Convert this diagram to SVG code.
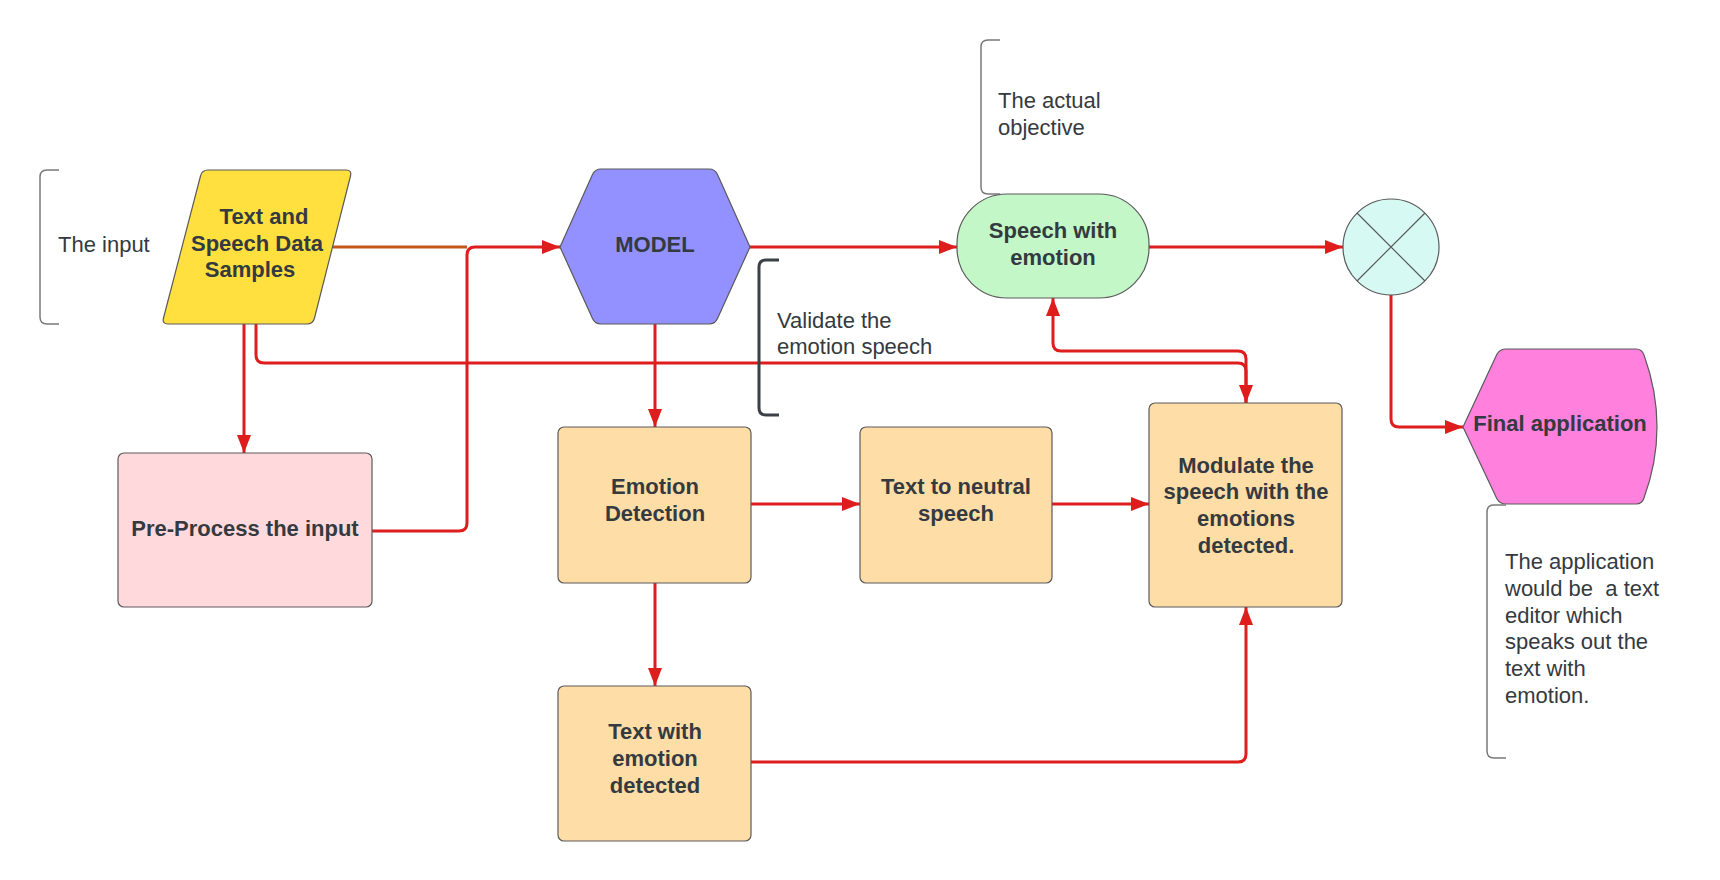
<svg xmlns="http://www.w3.org/2000/svg" width="1720" height="880" viewBox="0 0 1720 880">
<style>
.node{stroke:#5a5a5a;stroke-width:1.2}
.lbl{font-family:"Liberation Sans",Arial,sans-serif;font-size:22px;font-weight:bold;fill:#343a40;text-anchor:middle}
.note{font-family:"Liberation Sans",Arial,sans-serif;font-size:22px;fill:#343a40}
.br{fill:none;stroke:#7a7a7a;stroke-width:1.5}
.edge{fill:none;stroke:#DE1D1D;stroke-width:3}
</style>
<defs>
<marker id="ah" markerWidth="18" markerHeight="14" refX="18" refY="7" orient="auto" markerUnits="userSpaceOnUse">
<path d="M0,0 L18,7 L0,14 Z" fill="#DE1D1D"/>
</marker>
</defs>
<rect width="1720" height="880" fill="#ffffff"/>

<g id="connectors">
<path d="M333,247 H467" fill="none" stroke="#C4561A" stroke-width="3"/>
<path class="edge" d="M372,531 H459 Q467,531 467,523 V255 Q467,247 475,247 H560" marker-end="url(#ah)"/>
<path class="edge" d="M750,247 H957" marker-end="url(#ah)"/>
<path class="edge" d="M1149,247 H1343" marker-end="url(#ah)"/>
<path class="edge" d="M1391,295 V419 Q1391,427 1399,427 H1463" marker-end="url(#ah)"/>
<path class="edge" d="M244,324 V453" marker-end="url(#ah)"/>
<path class="edge" d="M256,324 V355 Q256,363 264,363 H1238 Q1246,363 1246,371 V403" marker-end="url(#ah)"/>
<path class="edge" d="M1246,403 V359 Q1246,351 1238,351 H1061 Q1053,351 1053,343 V298" marker-end="url(#ah)"/>
<path class="edge" d="M655,324 V427" marker-end="url(#ah)"/>
<path class="edge" d="M751,504 H860" marker-end="url(#ah)"/>
<path class="edge" d="M1052,504 H1149" marker-end="url(#ah)"/>
<path class="edge" d="M655,583 V686" marker-end="url(#ah)"/>
<path class="edge" d="M751,762 H1238 Q1246,762 1246,754 V607" marker-end="url(#ah)"/>
</g>

<g id="note-input">
<path class="br" d="M59,170 H47 Q40,170 40,177 V317 Q40,324 47,324 H59"/>
<text class="note" x="58" y="252">The input</text>
</g>

<g id="node-data">
<path class="node" d="M208,170 H346 Q352,170 350.5,176 L314.5,318 Q313,324 307,324 H168 Q162,324 163.5,318 L200.5,176 Q202,170 208,170 Z" fill="#FFE03F"/>
<text class="lbl" x="264" y="224">Text and</text>
<text class="lbl" x="257" y="251">Speech Data</text>
<text class="lbl" x="250" y="277">Samples</text>
</g>

<g id="node-model">
<path class="node" d="M601,169 H709 Q715,169 717.5,174.5 L750,247 L717.5,318.5 Q715,324 709,324 H601 Q595,324 592.5,318.5 L560,247 L592.5,174.5 Q595,169 601,169 Z" fill="#9391FF"/>
<text class="lbl" x="655" y="252">MODEL</text>
</g>

<g id="note-validate">
<path fill="none" stroke="#3b4047" stroke-width="3" d="M779,260 H766 Q759,260 759,267 V408 Q759,415 766,415 H779"/>
<text class="note" x="777" y="328">Validate the</text>
<text class="note" x="777" y="354">emotion speech</text>
</g>

<g id="note-objective">
<path class="br" d="M1000,40 H988 Q981,40 981,47 V187 Q981,194 988,194 H1000"/>
<text class="note" x="998" y="108">The actual</text>
<text class="note" x="998" y="135">objective</text>
</g>

<g id="node-speech">
<rect class="node" x="957" y="194" width="192" height="104" rx="50" ry="50" fill="#C3F7C8"/>
<text class="lbl" x="1053" y="238">Speech with</text>
<text class="lbl" x="1053" y="265">emotion</text>
</g>

<g id="node-junction">
<circle class="node" cx="1391" cy="247" r="48" fill="#D6F9F3"/>
<path d="M1357,213 L1425,281 M1425,213 L1357,281" stroke="#5a5a5a" stroke-width="1.2"/>
</g>

<g id="node-final">
<path class="node" d="M1506,349 H1636 Q1642,349 1644,355 Q1670,427 1644,498 Q1642,504 1636,504 H1506 Q1500,504 1497,499 L1463,427 L1497,354 Q1500,349 1506,349 Z" fill="#FF80DD"/>
<text class="lbl" x="1560" y="431">Final application</text>
</g>

<g id="note-application">
<path class="br" d="M1506,505 H1494 Q1487,505 1487,512 V751 Q1487,758 1494,758 H1506"/>
<text class="note" x="1505" y="569">The application</text>
<text class="note" x="1505" y="596" xml:space="preserve">would be  a text</text>
<text class="note" x="1505" y="623">editor which</text>
<text class="note" x="1505" y="649">speaks out the</text>
<text class="note" x="1505" y="676">text with</text>
<text class="note" x="1505" y="703">emotion.</text>
</g>

<g id="node-preprocess">
<rect class="node" x="118" y="453" width="254" height="154" rx="6" fill="#FFD9DC"/>
<text class="lbl" x="245" y="536">Pre-Process the input</text>
</g>

<g id="node-emotion">
<rect class="node" x="558" y="427" width="193" height="156" rx="6" fill="#FFDDA6"/>
<text class="lbl" x="655" y="494">Emotion</text>
<text class="lbl" x="655" y="521">Detection</text>
</g>

<g id="node-neutral">
<rect class="node" x="860" y="427" width="192" height="156" rx="6" fill="#FFDDA6"/>
<text class="lbl" x="956" y="494">Text to neutral</text>
<text class="lbl" x="956" y="521">speech</text>
</g>

<g id="node-modulate">
<rect class="node" x="1149" y="403" width="193" height="204" rx="6" fill="#FFDDA6"/>
<text class="lbl" x="1246" y="473">Modulate the</text>
<text class="lbl" x="1246" y="499">speech with the</text>
<text class="lbl" x="1246" y="526">emotions</text>
<text class="lbl" x="1246" y="553">detected.</text>
</g>

<g id="node-textemotion">
<rect class="node" x="558" y="686" width="193" height="155" rx="6" fill="#FFDDA6"/>
<text class="lbl" x="655" y="739">Text with</text>
<text class="lbl" x="655" y="766">emotion</text>
<text class="lbl" x="655" y="793">detected</text>
</g>
</svg>
